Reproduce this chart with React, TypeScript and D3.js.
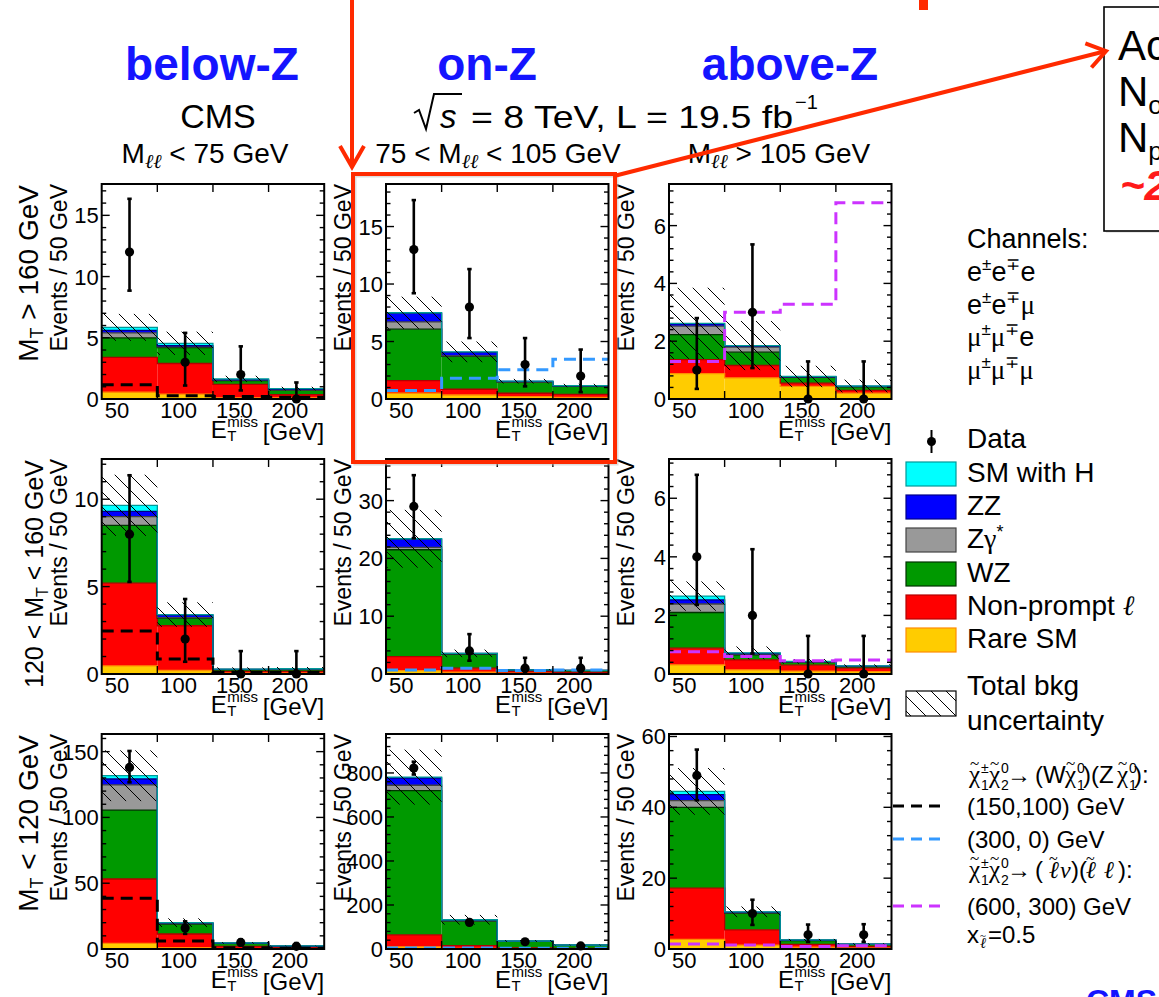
import React from 'react';
import * as d3 from 'd3';

// ---------------- data ----------------
const binEdges = [50, 100, 150, 200, 250];
const xTickValues = [50, 100, 150, 200];
// panel order: row (MT>160, 120-160, <120) x column (below-Z, on-Z, above-Z)
const panelYMax = [17.56, 18.7, 7.44, 12.3, 37.2, 7.34, 163.4, 977, 60.7];
const panelYStep = [5, 5, 2, 5, 10, 2, 50, 200, 20];

const rareSM = [
  [0.55, 0.4, 0.1, 0.1], [0.5, 0.35, 0.2, 0.15], [0.88, 0.73, 0.44, 0.2],
  [0.46, 0.2, 0.05, 0.05], [0.6, 0.3, 0.15, 0.1], [0.31, 0.14, 0.1, 0.08],
  [4.3, 1, 0.3, 0.2], [10, 3, 1, 0.5], [2.7, 1.1, 0.5, 0.3],
];
const nonPrompt = [
  [2.85, 2.5, 1.1, 0.25], [1.1, 0.5, 0.3, 0.25], [0.48, 0.43, 0.11, 0.1],
  [4.74, 2.56, 0.1, 0.1], [2.4, 0.7, 0.25, 0.2], [0.57, 0.34, 0.2, 0.12],
  [48.9, 10.4, 1.7, 0.8], [54, 12, 4, 2.5], [14.5, 4.3, 0.8, 0.4],
];
const wzBkg = [
  [1.6, 1.3, 0.3, 0.35], [4.47, 2.85, 0.95, 0.7], [0.87, 0.46, 0.2, 0.12],
  [3.3, 0.44, 0.1, 0.1], [18.5, 2.46, 0.3, 0.3], [1.22, 0.17, 0.1, 0.05],
  [52.4, 7.6, 2.3, 1.1], [656, 112, 30, 14.5], [22.8, 4.7, 1.1, 0.6],
];
const zGamma = [
  [0.4, 0.05, 0.02, 0.02], [0.63, 0.05, 0.03, 0.02], [0.29, 0.18, 0.01, 0.01],
  [0.5, 0.02, 0.01, 0.02], [0.4, 0.02, 0.01, 0.01], [0.29, 0.02, 0.01, 0.01],
  [19.1, 0.3, 0.1, 0.1], [24, 1, 0.5, 0.2], [1.9, 0.1, 0.05, 0.02],
];
const zzBkg = [
  [0.2, 0.1, 0.05, 0.06], [0.75, 0.3, 0.05, 0.03], [0.08, 0.03, 0.01, 0.01],
  [0.3, 0.15, 0.01, 0.02], [1.4, 0.07, 0.01, 0.01], [0.14, 0.03, 0.01, 0.01],
  [4.5, 0.5, 0.1, 0.05], [33, 4, 0.5, 0.3], [1.7, 0.2, 0.05, 0.03],
];
const smHiggs = [
  [0.25, 0.2, 0.08, 0.07], [0.05, 0.05, 0.02, 0.02], [0.02, 0.02, 0.01, 0.01],
  [0.35, 0.03, 0.01, 0.01], [0.1, 0.02, 0.01, 0.01], [0.13, 0.02, 0.01, 0.01],
  [2.5, 0.2, 0.1, 0.05], [4, 1, 0.3, 0.2], [0.9, 0.1, 0.05, 0.02],
];
const bkgUnc = [
  [1.1, 0.95, 0.25, 0.15], [1.4, 0.9, 0.2, 0.15], [1.23, 0.85, 0.37, 0.22],
  [1.75, 0.7, 0.1, 0.1], [5.0, 0.65, 0.1, 0.1], [0.5, 0.22, 0.08, 0.05],
  [19.3, 3.3, 0.6, 0.3], [125, 22, 4, 2], [6.6, 1.5, 0.3, 0.25],
];
const dataObs = [
  [12, 3, 2, 0], [13, 8, 3, 2], [1, 3, 0, 0],
  [8, 2, 0, 0], [29, 4, 1, 1], [4, 2, 0, 0],
  [138, 16, 5, 2], [822, 121, 33, 14], [49, 10, 4, 4],
];
const dataLo = [
  [8.85, 1.1, 0.7, 0], [9.2, 5.3, 1.1, 0.6], [0.35, 1.07, 0, 0],
  [5.27, 0.7, 0, 0], [23.5, 2.3, 0.2, 0.2], [2.36, 0.7, 0, 0],
  [126.7, 11.5, 2.8, 0.7], [793, 110, 27, 10], [42, 6.8, 2, 2],
];
const dataHi = [
  [16.35, 5.4, 4.3, 1.35], [17.3, 11.3, 5.3, 4.3], [2.8, 5.35, 1.3, 1.3],
  [11.37, 4.29, 1.31, 1.31], [34.4, 6.9, 2.8, 2.8], [6.8, 4.26, 1.3, 1.3],
  [150.5, 21, 7.4, 4.5], [851, 132, 39, 18], [56.3, 13.9, 6.9, 7],
];
const signalYield = [
  [1.17, 0.27, 0.2, 0.15], [0.75, 1.8, 2.55, 3.45], [1.3, 3.0, 3.28, 6.79],
  [2.46, 0.86, 0.1, 0.1], [0.7, 1.0, 0.6, 0.7], [0.76, 0.6, 0.45, 0.48],
  [38.5, 6.1, 1.0, 0.5], [4, 4, 3, 3], [1.4, 1.1, 0.7, 0.9],
];
const columnTitles = ['below-Z', 'on-Z', 'above-Z'];
const processNames = ['SM with H', 'ZZ', 'Zγ*', 'WZ', 'Non-prompt', 'Rare SM'];

// ---------------- style ----------------
const FONT = "'Liberation Sans', Arial, Helvetica, sans-serif";
const SERIF = "'Liberation Serif', 'Times New Roman', serif";
const BLUE = '#1414ff';
const RED = '#ff2a00';
const procStyles = [
  { vals: rareSM, fill: '#ffcc00', line: '#ff8c00' },
  { vals: nonPrompt, fill: '#ff0000', line: '#b30000' },
  { vals: wzBkg, fill: '#009900', line: '#003300' },
  { vals: zGamma, fill: '#999999', line: '#444444' },
  { vals: zzBkg, fill: '#0000ff', line: '#000088' },
  { vals: smHiggs, fill: '#00ffff', line: '#009999' },
];
const signalColors = ['#000000', '#3399ff', '#cc33ff'];
const colX = [101.7, 386, 669];
const rowY = [184, 459, 734];
const PW = 222.5;
const PH = 215;

function stepPath(vals: number[], x: any, y: any) {
  let d = `M${x(binEdges[0])},${y(vals[0])}`;
  for (let i = 0; i < vals.length; i++) {
    d += `H${x(binEdges[i + 1])}`;
    if (i < vals.length - 1) d += `V${y(vals[i + 1])}`;
  }
  return d;
}

function Panel({ p }: { p: number }) {
  const col = p % 3;
  const row = Math.floor(p / 3);
  const x0 = colX[col];
  const y0 = rowY[row];
  const x = d3.scaleLinear().domain([binEdges[0], binEdges[4]]).range([x0, x0 + PW]);
  const y = d3.scaleLinear().domain([0, panelYMax[p]]).range([y0 + PH, y0]);
  const nb = 4;
  const cum: number[][] = [];
  const base = new Array(nb).fill(0);
  procStyles.forEach((ps) => {
    const top = base.map((b, i) => b + ps.vals[p][i]);
    cum.push(top);
    for (let i = 0; i < nb; i++) base[i] = top[i];
  });
  const total = cum[cum.length - 1];
  const step = panelYStep[p];
  const majors = d3.range(0, panelYMax[p] + 1e-9, step);
  const minors = d3.range(0, panelYMax[p] + 1e-9, step / 5);
  const clipId = `clip${p}`;
  const yb = y0 + PH;
  return (
    <g>
      <defs>
        <clipPath id={clipId}>
          <rect x={x0} y={y0} width={PW} height={PH} />
        </clipPath>
      </defs>
      <g clipPath={`url(#${clipId})`}>
        {procStyles.map((ps, k) =>
          d3.range(nb).map((i) => {
            const lo = k === 0 ? 0 : cum[k - 1][i];
            const hi = cum[k][i];
            return (
              <rect key={`f${k}-${i}`} x={x(binEdges[i])} y={y(hi)} width={x(binEdges[i + 1]) - x(binEdges[i])}
                height={Math.max(0, y(lo) - y(hi))} fill={ps.fill} />
            );
          })
        )}
        {procStyles.map((ps, k) => (
          <path key={`l${k}`} d={stepPath(cum[k], x, y)} fill="none" stroke={ps.line} strokeWidth={1.3} />
        ))}
        {d3.range(nb).map((i) => (
          <rect key={`h${i}`} x={x(binEdges[i])} y={y(total[i] + bkgUnc[p][i])}
            width={x(binEdges[i + 1]) - x(binEdges[i])}
            height={y(Math.max(0, total[i] - bkgUnc[p][i])) - y(total[i] + bkgUnc[p][i])}
            fill="url(#hatch)" />
        ))}
        <path d={stepPath(signalYield[p], x, y)} fill="none" stroke={signalColors[col]} strokeWidth={3}
          strokeDasharray="12,7" />
      </g>
      {d3.range(nb).map((i) => {
        const cx = x((binEdges[i] + binEdges[i + 1]) / 2);
        return (
          <g key={`d${i}`}>
            <line x1={cx} x2={cx} y1={y(dataLo[p][i])} y2={y(dataHi[p][i])} stroke="#000" strokeWidth={2.6} />
            <line x1={cx - 2.2} x2={cx + 2.2} y1={y(dataHi[p][i])} y2={y(dataHi[p][i])} stroke="#000" strokeWidth={2.6} />
            {dataLo[p][i] > 0 && (
              <line x1={cx - 2.2} x2={cx + 2.2} y1={y(dataLo[p][i])} y2={y(dataLo[p][i])} stroke="#000" strokeWidth={2.6} />
            )}
            <circle cx={cx} cy={y(dataObs[p][i])} r={4.6} fill="#000" />
          </g>
        );
      })}
      {/* frame and ticks */}
      <rect x={x0} y={y0} width={PW} height={PH} fill="none" stroke="#000" strokeWidth={2} />
      {minors.map((v, i) => {
        const isMaj = Math.abs(v / step - Math.round(v / step)) < 1e-6;
        const len = isMaj ? 8 : 4.5;
        return (
          <g key={`yt${i}`}>
            <line x1={x0} x2={x0 + len} y1={y(v)} y2={y(v)} stroke="#000" strokeWidth={1.4} />
            <line x1={x0 + PW - len} x2={x0 + PW} y1={y(v)} y2={y(v)} stroke="#000" strokeWidth={1.4} />
          </g>
        );
      })}
      {binEdges.slice(1, 4).map((v, i) => (
        <g key={`xt${i}`}>
          <line x1={x(v)} x2={x(v)} y1={yb} y2={yb - 8} stroke="#000" strokeWidth={1.4} />
          <line x1={x(v)} x2={x(v)} y1={y0} y2={y0 + 8} stroke="#000" strokeWidth={1.4} />
        </g>
      ))}
      {majors.map((v, i) => (
        <text key={`yl${i}`} x={x0 - 3} y={y(v) + 8} textAnchor="end" fontSize={22} fontFamily={FONT}>
          {v}
        </text>
      ))}
      {xTickValues.map((v, i) => (
        <text key={`xl${i}`} x={x(v) + 3} y={yb + 19} textAnchor="start" fontSize={22} fontFamily={FONT}>
          {v}
        </text>
      ))}
      {/* x title */}
      <text x={x0 + PW} y={yb + 41} textAnchor="end" fontSize={24} fontFamily={FONT}>[GeV]</text>
      <text x={x0 + 125} y={yb + 39} textAnchor="end" fontSize={24} fontFamily={FONT}>E</text>
      <text x={x0 + 125.5} y={yb + 28} fontSize={15} fontFamily={FONT}>miss</text>
      <text x={x0 + 125.5} y={yb + 42} fontSize={15} fontFamily={FONT}>T</text>
      {/* y title */}
      <text transform={`translate(${x0 - 35},${y0}) rotate(-90)`} textAnchor="end" fontSize={23} fontFamily={FONT}>
        Events / 50 GeV
      </text>
    </g>
  );
}

function RowLabel({ row }: { row: number }) {
  const y0 = rowY[row];
  const fs = row === 1 ? 25 : 28;
  const sub = row === 1 ? 16 : 18;
  const bx = row === 1 ? 43 : 38;
  return (
    <text transform={`translate(${bx},${y0 + 1}) rotate(-90)`} textAnchor="end" fontSize={fs} fontFamily={FONT}>
      {row === 1 && <tspan>120 &lt; </tspan>}
      <tspan>M</tspan>
      <tspan fontSize={sub} dy={5}>T</tspan>
      <tspan dy={-5}>{row === 0 ? ' > 160 GeV' : row === 1 ? ' < 160 GeV' : ' < 120 GeV'}</tspan>
    </text>
  );
}

// neutralino / chargino symbol with tilde, superscript and subscript
function Chi({ x, y, sup, sub }: { x: number; y: number; sup: string; sub: string }) {
  return (
    <g>
      <text x={x} y={y} fontSize={25} fontFamily={SERIF}>χ</text>
      <text x={x + 1} y={y - 14} fontSize={17} fontFamily={SERIF}>~</text>
      <text x={x + 12} y={y - 10} fontSize={14} fontFamily={FONT}>{sup}</text>
      <text x={x + 12} y={y + 7} fontSize={14} fontFamily={FONT}>{sub}</text>
    </g>
  );
}

function Legend() {
  const lx = 967;
  const boxY = [462, 495, 528, 562, 595, 628];
  const fills = [...procStyles].reverse();
  const chan = [
    ['e', 'e', 'e'],
    ['e', 'e', 'μ'],
    ['μ', 'μ', 'e'],
    ['μ', 'μ', 'μ'],
  ];
  return (
    <g fontFamily={FONT}>
      <text x={lx} y={248} fontSize={27}>Channels:</text>
      {chan.map((c, i) => (
        <text key={i} x={lx} y={281 + i * 32.5} fontSize={27}>
          <tspan fontFamily={c[0] === 'μ' ? SERIF : FONT}>{c[0]}</tspan>
          <tspan fontSize={17} dy={-11}>±</tspan>
          <tspan dy={11} fontFamily={c[1] === 'μ' ? SERIF : FONT}>{c[1]}</tspan>
          <tspan fontSize={17} dy={-11}>∓</tspan>
          <tspan dy={11} fontFamily={c[2] === 'μ' ? SERIF : FONT}>{c[2]}</tspan>
        </text>
      ))}
      {/* data */}
      <line x1={931.5} x2={931.5} y1={430} y2={453} stroke="#000" strokeWidth={2} />
      <circle cx={931.5} cy={441.5} r={4.5} fill="#000" />
      <text x={lx} y={448} fontSize={28}>Data</text>
      {fills.map((ps, i) => (
        <g key={i}>
          <rect x={906} y={boxY[i]} width={50} height={24} fill={ps.fill} stroke={ps.line} strokeWidth={1.2} />
          <text x={lx} y={boxY[i] + 20} fontSize={28}>
            {i === 2 ? (
              <>
                <tspan>Z</tspan>
                <tspan fontFamily={SERIF}>γ</tspan>
                <tspan fontSize={18} dy={-10}>*</tspan>
              </>
            ) : i === 4 ? (
              <>
                <tspan>{processNames[i]} </tspan>
                <tspan fontFamily={SERIF} fontStyle="italic">ℓ</tspan>
              </>
            ) : (
              processNames[i]
            )}
          </text>
        </g>
      ))}
      <rect x={906} y={691} width={50} height={25} fill="url(#hatch)" stroke="#000" strokeWidth={1.2} />
      <text x={lx} y={695} fontSize={28}>Total bkg</text>
      <text x={lx} y={730} fontSize={28}>uncertainty</text>

      {/* signal models */}
      <Chi x={969} y={783} sup="±" sub="1" />
      <Chi x={989} y={783} sup="0" sub="2" />
      <text x={1007} y={783} fontSize={24}>→</text>
      <text x={1035} y={783} fontSize={24}>(W</text>
      <Chi x={1065} y={783} sup="0" sub="1" />
      <text x={1083} y={783} fontSize={24}>)(Z</text>
      <Chi x={1117} y={783} sup="0" sub="1" />
      <text x={1134} y={783} fontSize={24}>):</text>

      <line x1={893} x2={942} y1={806} y2={806} stroke="#000" strokeWidth={3} strokeDasharray="11,7" />
      <text x={lx} y={815} fontSize={24}>(150,100) GeV</text>
      <line x1={893} x2={942} y1={839} y2={839} stroke="#3399ff" strokeWidth={3} strokeDasharray="11,7" />
      <text x={lx} y={848} fontSize={24}>(300, 0) GeV</text>

      <Chi x={969} y={878} sup="±" sub="1" />
      <Chi x={989} y={878} sup="0" sub="2" />
      <text x={1007} y={878} fontSize={24}>→</text>
      <text x={1035} y={878} fontSize={24}>(</text>
      <text x={1049} y={878} fontSize={24} fontFamily={SERIF} fontStyle="italic">ℓ</text>
      <text x={1049} y={864} fontSize={16} fontFamily={SERIF}>~</text>
      <text x={1060} y={878} fontSize={24} fontFamily={SERIF} fontStyle="italic">ν</text>
      <text x={1071} y={878} fontSize={24}>)(</text>
      <text x={1086} y={878} fontSize={24} fontFamily={SERIF} fontStyle="italic">ℓ</text>
      <text x={1086} y={864} fontSize={16} fontFamily={SERIF}>~</text>
      <text x={1104} y={878} fontSize={24} fontFamily={SERIF} fontStyle="italic">ℓ</text>
      <text x={1118} y={878} fontSize={24}>):</text>

      <line x1={893} x2={942} y1={906} y2={906} stroke="#cc33ff" strokeWidth={3} strokeDasharray="11,7" />
      <text x={lx} y={915} fontSize={24}>(600, 300) GeV</text>
      <text x={lx} y={943} fontSize={24}>x</text>
      <text x={980} y={948} fontSize={15} fontFamily={SERIF} fontStyle="italic">ℓ</text>
      <text x={980} y={939} fontSize={11} fontFamily={SERIF}>~</text>
      <text x={988} y={943} fontSize={24}>=0.5</text>
    </g>
  );
}

function Annotations() {
  const tip = [1106, 51];
  const st = [614, 176];
  const dx = tip[0] - st[0];
  const dy = tip[1] - st[1];
  const L = Math.hypot(dx, dy);
  const ux = dx / L;
  const uy = dy / L;
  const arm = (ang: number) => {
    const c = Math.cos(ang);
    const s = Math.sin(ang);
    const rx = ux * c - uy * s;
    const ry = ux * s + uy * c;
    return [tip[0] - 22 * rx, tip[1] - 22 * ry];
  };
  const a1 = arm(0.6);
  const a2 = arm(-0.6);
  return (
    <g>
      {/* top-right callout box */}
      <rect x={1106} y={9} width={80} height={224} fill="#d8d8d8" opacity={0.6} />
      <rect x={1104} y={7} width={80} height={224} fill="#fff" stroke="#000" strokeWidth={1.6} />
      <g fontFamily={FONT} fontSize={42}>
        <text x={1118} y={60}>Acc</text>
        <text x={1118} y={106}>N<tspan fontSize={26} dy={8}>obs</tspan></text>
        <text x={1118} y={152}>N<tspan fontSize={26} dy={8}>pred</tspan></text>
        <text x={1120} y={200} fill="#ff1a1a" fontWeight="bold" fontStyle="italic">~2σ</text>
      </g>
      <rect x={919} y={0} width={9} height={10} fill={RED} />
      {/* vertical arrow */}
      <line x1={352} x2={352} y1={0} y2={164} stroke={RED} strokeWidth={4} />
      <polyline points="340,146 352,167 364,146" fill="none" stroke={RED} strokeWidth={4} strokeLinejoin="miter" />
      {/* highlight box */}
      <rect x={355} y={176} width={262} height={288} fill="none" stroke="#bbbbbb" strokeWidth={3} opacity={0.5} />
      <rect x={353} y={174} width={262} height={288} fill="none" stroke={RED} strokeWidth={4} />
      {/* diagonal arrow */}
      <line x1={st[0]} y1={st[1]} x2={tip[0]} y2={tip[1]} stroke={RED} strokeWidth={4} />
      <polyline points={`${a1[0]},${a1[1]} ${tip[0]},${tip[1]} ${a2[0]},${a2[1]}`} fill="none" stroke={RED} strokeWidth={4} />
      {/* bottom-right CMS */}
      <text x={1086} y={1012} fontSize={32} fontWeight="bold" fill={BLUE} fontFamily={FONT}>CMS</text>
    </g>
  );
}

function Titles() {
  return (
    <g fontFamily={FONT}>
      {columnTitles.map((t, i) => (
        <text key={t} x={[212, 487, 790][i]} y={80} textAnchor="middle" fontSize={46} fontWeight="bold" fill={BLUE}>
          {t}
        </text>
      ))}
      <text x={218} y={128} textAnchor="middle" fontSize={34}>CMS</text>
      {/* sqrt(s) */}
      <path d="M414,113 L419,110 L426,129 L434,94 L462,94" fill="none" stroke="#000" strokeWidth={2} />
      <text x={440} y={128} fontSize={33} fontStyle="italic">s</text>
      <text x={471} y={128} fontSize={32} textLength={322} lengthAdjust="spacingAndGlyphs">= 8 TeV, L = 19.5 fb</text>
      <text x={795} y={109} fontSize={20}>−1</text>
      <g fontSize={28}>
        <text x={205} y={163} textAnchor="middle">
          <tspan>M</tspan>
          <tspan fontFamily={SERIF} fontStyle="italic" fontSize={20} dy={5}>ℓℓ</tspan>
          <tspan dy={-5}> &lt; 75 GeV</tspan>
        </text>
        <text x={498} y={163} textAnchor="middle">
          <tspan>75 &lt; M</tspan>
          <tspan fontFamily={SERIF} fontStyle="italic" fontSize={20} dy={5}>ℓℓ</tspan>
          <tspan dy={-5}> &lt; 105 GeV</tspan>
        </text>
        <text x={779} y={163} textAnchor="middle">
          <tspan>M</tspan>
          <tspan fontFamily={SERIF} fontStyle="italic" fontSize={20} dy={5}>ℓℓ</tspan>
          <tspan dy={-5}> &gt; 105 GeV</tspan>
        </text>
      </g>
    </g>
  );
}

export default function App() {
  return (
    <svg width={1159} height={997} style={{ position: 'absolute', left: 0, top: 0, background: '#fff' }}
      xmlns="http://www.w3.org/2000/svg">
      <defs>
        <pattern id="hatch" patternUnits="userSpaceOnUse" width={15} height={15}>
          <path d="M0,0 L15,15 M-4,11 L4,19 M11,-4 L19,4" stroke="#000" strokeWidth={1} />
        </pattern>
      </defs>
      <rect x={0} y={0} width={1159} height={997} fill="#fff" />
      <Titles />
      {d3.range(9).map((p) => (
        <Panel key={p} p={p} />
      ))}
      {[0, 1, 2].map((r) => (
        <RowLabel key={r} row={r} />
      ))}
      <Legend />
      <Annotations />
    </svg>
  );
}
